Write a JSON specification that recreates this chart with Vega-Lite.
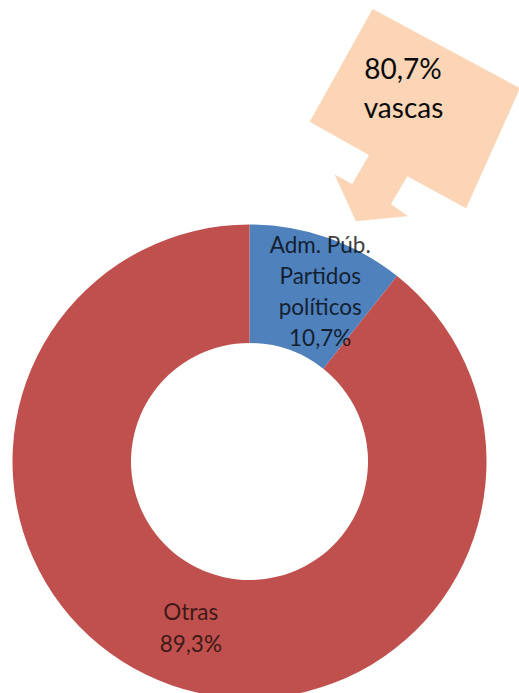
{
  "$schema": "https://vega.github.io/schema/vega-lite/v6.json",
  "width": 499,
  "height": 923,
  "autosize": {"type": "none"},
  "padding": {"left": 0, "top": 0, "right": 20, "bottom": -230},
  "background": "white",
  "config": {"view": {"stroke": null}, "font": "Lato"},
  "datasets": {
    "share": [
      {"cat": "Adm. Púb. Partidos políticos", "value": 10.7, "label": "Adm. Púb.\nPartidos\npolíticos\n10,7%"},
      {"cat": "Otras", "value": 89.3, "label": "Otras\n89,3%"}
    ],
    "callout": [
      {"i": 1, "px": 372.7, "py": 9.3},
      {"i": 2, "px": 519.7, "py": 88.3},
      {"i": 3, "px": 466, "py": 208},
      {"i": 4, "px": 407.3, "py": 176},
      {"i": 5, "px": 390.7, "py": 204},
      {"i": 6, "px": 407.3, "py": 216},
      {"i": 7, "px": 356, "py": 221},
      {"i": 8, "px": 335, "py": 175},
      {"i": 9, "px": 352.3, "py": 184.3},
      {"i": 10, "px": 369.3, "py": 155},
      {"i": 11, "px": 310, "py": 121.7}
    ],
    "note": [
      {"t": "80,7%", "px": 403, "py": 79.3},
      {"t": "vascas", "px": 403.5, "py": 118.3}
    ]
  },
  "layer": [
    {
      "data": {"name": "callout"},
      "mark": {"type": "line", "fill": "#FBD5B5", "stroke": "#FBD5B5", "strokeWidth": 0.5, "interpolate": "linear-closed"},
      "encoding": {
        "x": {"field": "px", "type": "quantitative", "scale": {"domain": [0, 499], "nice": false, "zero": false}, "axis": null},
        "y": {"field": "py", "type": "quantitative", "scale": {"domain": [0, 923], "nice": false, "zero": false, "reverse": true}, "axis": null},
        "order": {"field": "i", "type": "quantitative"}
      }
    },
    {
      "data": {"name": "note"},
      "mark": {"type": "text", "fontSize": 28, "baseline": "alphabetic", "align": "center", "color": "#0a0a0a"},
      "encoding": {
        "x": {"field": "px", "type": "quantitative"},
        "y": {"field": "py", "type": "quantitative"},
        "text": {"field": "t"}
      }
    },
    {
      "data": {"name": "share"},
      "mark": {"type": "arc", "outerRadius": 237, "innerRadius": 118.5},
      "encoding": {
        "theta": {"field": "value", "type": "quantitative", "stack": true},
        "color": {"field": "cat", "type": "nominal", "scale": {"domain": ["Adm. Púb. Partidos políticos", "Otras"], "range": ["#4F81BD", "#C0504D"]}, "legend": null},
        "order": {"field": "cat", "sort": "ascending"}
      }
    },
    {
      "data": {"name": "share"},
      "mark": {"type": "text", "radius": 178, "fontSize": 22.5, "lineBreak": "\n", "lineHeight": 31, "align": "center", "baseline": "middle", "color": "#000000", "opacity": 0.75, "dx": 12, "dy": -47},
      "encoding": {
        "theta": {"field": "value", "type": "quantitative", "stack": true},
        "detail": {"field": "cat"},
        "order": {"field": "cat", "sort": "ascending"},
        "text": {"condition": {"test": "datum.cat !== 'Otras'", "field": "label"}, "value": ""}
      }
    },
    {
      "data": {"name": "share"},
      "mark": {"type": "text", "radius": 178, "fontSize": 22.5, "lineBreak": "\n", "lineHeight": 32, "align": "center", "baseline": "middle", "color": "#000000", "opacity": 0.68, "dy": -17},
      "encoding": {
        "theta": {"field": "value", "type": "quantitative", "stack": true},
        "detail": {"field": "cat"},
        "order": {"field": "cat", "sort": "ascending"},
        "text": {"condition": {"test": "datum.cat === 'Otras'", "field": "label"}, "value": ""}
      }
    }
  ]
}
